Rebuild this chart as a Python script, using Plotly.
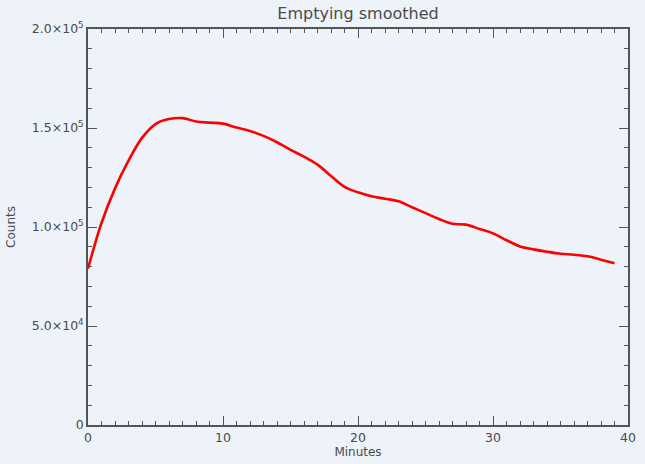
import plotly.graph_objects as go

minutes = list(range(0, 40))
counts = [79000, 102000, 119500, 133500, 145000, 152000, 154500, 155000, 153300, 152700,
          152200, 150200, 148500, 146000, 142800, 139000, 135500, 131500, 125800, 120300,
          117500, 115500, 114300, 113000, 110000, 107000, 104000, 101600, 101200, 99000,
          96800, 93300, 90200, 88700, 87500, 86500, 86000, 85200, 83500, 81700]

x_ticks = [0, 10, 20, 30, 40]
y_ticks = [0, 50000, 100000, 150000, 200000]
y_tick_text = ["0", "5.0×10<sup>4</sup>", "1.0×10<sup>5</sup>", "1.5×10<sup>5</sup>", "2.0×10<sup>5</sup>"]

bg = "#eef3fa"
axc = "#555555"
txt = "#4a4a4a"
fnt = "DejaVu Sans"

fig = go.Figure()
fig.add_trace(go.Scatter(x=minutes, y=counts, mode="lines", line_shape="spline",
                         line=dict(color="#ff0000", width=2.6), showlegend=False))

common = dict(showgrid=False, zeroline=False, showline=True, linecolor=axc, linewidth=1.6,
              ticks="inside", ticklen=9, tickwidth=1.3, tickcolor=axc, mirror="ticks",
              automargin=False,
              tickfont=dict(family=fnt, size=12.5, color=txt))

fig.update_layout(
    width=645, height=464,
    paper_bgcolor=bg, plot_bgcolor=bg,
    margin=dict(l=88, r=17, t=29, b=39),
    title=dict(text="Emptying smoothed", x=358 / 645, xanchor="center",
               y=1 - 13 / 464, yanchor="middle",
               font=dict(family=fnt, size=16, color=txt)),
    xaxis=dict(range=[0, 40], tickvals=x_ticks, ticktext=[str(v) for v in x_ticks],
               minor=dict(dtick=1, ticklen=4, tickwidth=1.2, tickcolor=axc, ticks="inside"),
               title=dict(text="Minutes", standoff=3,
                          font=dict(family=fnt, size=12, color=txt)),
               **common),
    yaxis=dict(range=[0, 200000], tickvals=y_ticks, ticktext=y_tick_text,
               minor=dict(dtick=10000, ticklen=4, tickwidth=1.2, tickcolor=axc, ticks="inside"),
               title=dict(text="Counts", standoff=14,
                          font=dict(family=fnt, size=12, color=txt)),
               **common),
)

fig.write_html("out.html", config={"displayModeBar": False},
               post_script="document.body.style.margin='0px';")
